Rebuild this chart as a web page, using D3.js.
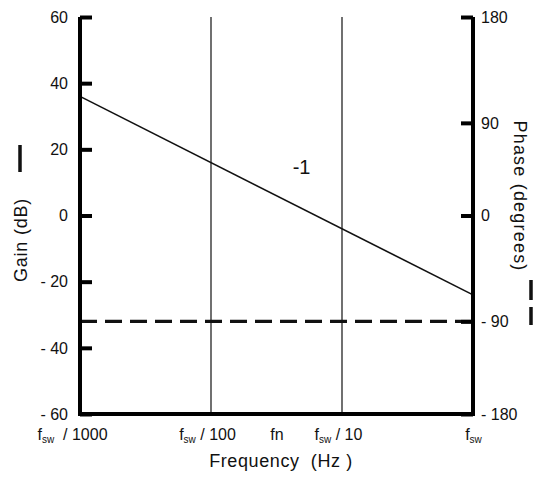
<!DOCTYPE html>
<html>
<head>
<meta charset="utf-8">
<script src="https://cdn.jsdelivr.net/npm/d3@7"></script>
<style>
  body { margin: 0; background: #fff; }
  svg text { font-family: "Liberation Sans", Arial, sans-serif; fill: #111; }
</style>
</head>
<body>
<div class="container"></div>
<script>
// frequencies as a fraction of fsw
const freqTicks = [0.001, 0.01, 0.0316, 0.1, 1];
const freqLabels = [
    {f: "f", sub: "sw", rest: "  / 1000"},
    {f: "f", sub: "sw", rest: " / 100"},
    {f: "fn", sub: "", rest: ""},
    {f: "f", sub: "sw", rest: " / 10"},
    {f: "f", sub: "sw", rest: ""}
];
const gainTicks = [60, 40, 20, 0, -20, -40, -60];
const phaseTicks = [180, 90, 0, -90, -180];
// the hand drawn phase axis is not quite even against the gain grid
const phaseAsGain = [60, 28, 0, -32, -60];
const gainFreq = [0.001, 1];
const gainDb = [36, -24];
const phaseFreq = [0.001, 1];
const phaseDeg = [-90, -90];
const markers = [0.01, 0.1];

const width = 542, height = 477,
    margin = {top: 17, right: 69, bottom: 63, left: 80};

const svg = d3.select('.container')
    .append('svg')
    .attr('width', width)
    .attr('height', height);

const x = d3.scaleLog()
    .domain([0.001, 1])
    .range([margin.left, width - margin.right]);

const y = d3.scaleLinear()
    .domain([-60, 60])
    .range([height - margin.bottom, margin.top]);

const phaseToGain = d3.scaleLinear().domain(phaseTicks).range(phaseAsGain);
const yPhase = v => y(phaseToGain(v));

const fmt = d => d < 0 ? "- " + Math.abs(d) : String(d);

// vertical marker lines
svg.selectAll('.marker')
    .data(markers)
    .enter()
    .append('line')
    .attr('x1', d => x(d)).attr('x2', d => x(d))
    .attr('y1', y(60)).attr('y2', y(-60))
    .attr('stroke', '#111')
    .attr('stroke-width', 1.2);

// gain line
const gainLine = d3.line().x(d => x(d[0])).y(d => y(d[1]));
svg.append('path')
    .datum(gainFreq.map((f, i) => [f, gainDb[i]]))
    .attr('d', gainLine)
    .attr('fill', 'none')
    .attr('stroke', '#111')
    .attr('stroke-width', 1.6);

// phase line
const phaseLine = d3.line().x(d => x(d[0])).y(d => yPhase(d[1]));
svg.append('path')
    .datum(phaseFreq.map((f, i) => [f, phaseDeg[i]]))
    .attr('d', phaseLine)
    .attr('fill', 'none')
    .attr('stroke', '#111')
    .attr('stroke-width', 3.2)
    .attr('stroke-dasharray', '17,8');

// left axis
const left = svg.append('g')
    .attr('transform', `translate(${margin.left},0)`)
    .call(d3.axisRight(y).tickValues(gainTicks).tickSize(12).tickFormat(''));
left.select('.domain').attr('stroke-width', 4).attr('d', `M0,${y(60)}V${y(-60)}`);
left.selectAll('.tick line').attr('stroke-width', 4);
left.selectAll('.glab')
    .data(gainTicks)
    .enter()
    .append('text')
    .attr('x', -12)
    .attr('y', d => y(d))
    .attr('dy', '0.36em')
    .attr('text-anchor', 'end')
    .style('font-size', '16px')
    .text(fmt);

// right axis
const right = svg.append('g')
    .attr('transform', `translate(${width - margin.right},0)`)
    .call(d3.axisLeft(y).tickValues(phaseAsGain).tickSize(12).tickFormat(''));
right.select('.domain').attr('stroke-width', 4).attr('d', `M0,${y(60)}V${y(-60)}`);
right.selectAll('.tick line').attr('stroke-width', 4);
right.selectAll('.plab')
    .data(phaseTicks)
    .enter()
    .append('text')
    .attr('x', 8)
    .attr('y', d => yPhase(d))
    .attr('dy', '0.36em')
    .attr('text-anchor', 'start')
    .style('font-size', '16px')
    .text(fmt);

// bottom axis
const bottom = svg.append('g')
    .attr('transform', `translate(0,${height - margin.bottom})`)
    .call(d3.axisBottom(x).tickValues(freqTicks).tickSize(0).tickFormat(''));
bottom.select('.domain').attr('stroke-width', 4).attr('d', `M${margin.left - 2},0H${width - margin.right + 2}`);
bottom.selectAll('.tick text').remove();
bottom.selectAll('.tick')
    .append('text')
    .attr('y', 26)
    .attr('text-anchor', 'middle')
    .attr('xml:space', 'preserve')
    .style('font-size', '16px')
    .each(function(d, i) {
        const lab = freqLabels[i], t = d3.select(this);
        if (i === 0) t.attr('dx', -8);
        if (i === 1 || i === 3) t.attr('dx', -4);
        t.append('tspan').text(lab.f);
        if (lab.sub) t.append('tspan').attr('dy', 3).style('font-size', '10px').text(lab.sub);
        if (lab.rest) t.append('tspan').attr('dy', lab.sub ? -3 : 0).text(lab.rest);
    });

// slope label
svg.append('text')
    .attr('x', x(0.042))
    .attr('y', y(12.5))
    .style('font-size', '20px')
    .text('-1');

// axis titles
svg.append('text')
    .attr('x', 281)
    .attr('y', 467)
    .attr('text-anchor', 'middle')
    .attr('xml:space', 'preserve')
    .style('font-size', '18px')
    .style('letter-spacing', '0.6px')
    .text('Frequency  (Hz )');

svg.append('text')
    .attr('transform', 'translate(27,240) rotate(-90)')
    .attr('text-anchor', 'middle')
    .style('font-size', '18px')
    .style('letter-spacing', '0.8px')
    .text('Gain (dB)');

svg.append('line')
    .attr('x1', 20).attr('x2', 20)
    .attr('y1', 145).attr('y2', 172)
    .attr('stroke', '#111').attr('stroke-width', 3.5);

svg.append('text')
    .attr('transform', 'translate(514,196) rotate(90)')
    .attr('text-anchor', 'middle')
    .style('font-size', '18px')
    .style('letter-spacing', '1.2px')
    .text('Phase (degrees)');

svg.append('line')
    .attr('x1', 531).attr('x2', 531)
    .attr('y1', 280).attr('y2', 325)
    .attr('stroke', '#111').attr('stroke-width', 3.5)
    .attr('stroke-dasharray', '20,7');
</script>
</body>
</html>
